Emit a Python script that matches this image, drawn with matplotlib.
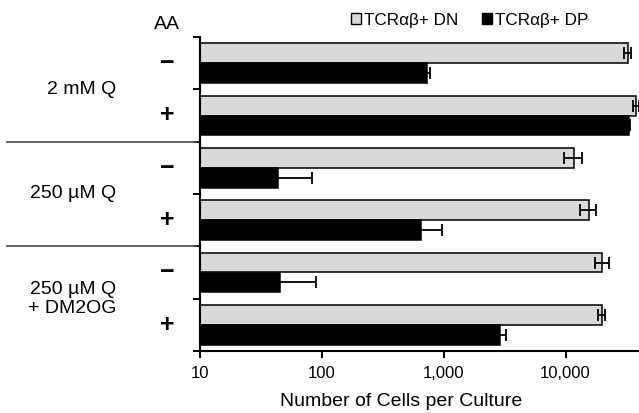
import matplotlib
matplotlib.use("Agg")
import matplotlib.pyplot as plt
from matplotlib.patches import Patch
import numpy as np

plt.rcParams['font.family'] = ['Liberation Sans', 'DejaVu Sans']

# data
groups = ["2 mM Q", "250 \u00b5M Q", "250 \u00b5M Q\n+ DM2OG"]
aa = ["\u2212", "+", "\u2212", "+", "\u2212", "+"]
dn = [32200, 38000, 11700, 15500, 20000, 19700]
dn_err = [2000, 2000, 2000, 2300, 2500, 1200]
dp = [725, 33000, 43.5, 650, 45, 2870]
dp_err = [50, 1000, 39, 310, 44, 350]

fig = plt.figure(figsize=(6.39, 4.13), dpi=100)
ax = fig.add_axes([200/639, 1-351/413, 439/639, 314/413])

n = len(dn)
slots = np.arange(n)
h = 0.38
ekw = dict(ecolor='black', elinewidth=1.3, capsize=4.5, capthick=1.3)
ax.barh(slots + 0.5 - h/2, dn, height=h, color='#d9d9d9', edgecolor='black',
        linewidth=1.1, xerr=dn_err, error_kw=ekw)
ax.barh(slots + 0.5 + h/2, dp, height=h, color='black', edgecolor='black',
        linewidth=1.1, xerr=dp_err, error_kw=ekw)

ax.set_xscale('log')
ax.set_xlim(10, 40000)
ax.set_ylim(n, 0)
ax.set_xticks([10, 100, 1000, 10000])
ax.set_xticklabels(["10", "100", "1,000", "10,000"])
ax.xaxis.set_minor_locator(matplotlib.ticker.NullLocator())
ax.set_yticks(np.arange(n + 1))
ax.set_yticklabels([])
ax.tick_params(axis='both', direction='out', length=5, width=1.4, labelsize=12)
ax.tick_params(axis='x', pad=6)
ax.spines['top'].set_visible(False)
ax.spines['right'].set_visible(False)
for s in ['left', 'bottom']:
    ax.spines[s].set_linewidth(1.5)
ax.set_xlabel("Number of Cells per Culture", fontsize=14)
ax.xaxis.set_label_coords(0.458, -0.133)

# AA signs
for i, s in enumerate(aa):
    ax.text(-0.075, i + 0.5, s, transform=ax.get_yaxis_transform(), ha='center', va='center',
            fontsize=18, fontweight='bold')
ax.text(-0.075, -0.23, "AA", transform=ax.get_yaxis_transform(), ha='center', va='center',
        fontsize=14)

# group labels and separators
xs = [-0.27, -0.29, -0.29]
for g, name in enumerate(groups):
    ax.text(xs[g], 2*g + 1, name, transform=ax.get_yaxis_transform(), ha='center', va='center',
            fontsize=14, linespacing=1.15)
for b in [2, 4]:
    ax.plot([-0.44, -0.01], [b, b], transform=ax.get_yaxis_transform(), color='#555555',
            linewidth=1.3, clip_on=False)

handles = [Patch(facecolor='#d9d9d9', edgecolor='black', linewidth=1),
           Patch(facecolor='black', edgecolor='black', linewidth=1)]
ax.legend(handles, ["TCR\u03b1\u03b2+ DN", "TCR\u03b1\u03b2+ DP"], ncol=2, frameon=False,
          loc='lower center', bbox_to_anchor=(0.614, 1.0), fontsize=12.3, handlelength=0.6,
          handleheight=0.6, handletextpad=0.15, columnspacing=1.4, borderaxespad=0.15)

fig.savefig("out.png", dpi=100)
